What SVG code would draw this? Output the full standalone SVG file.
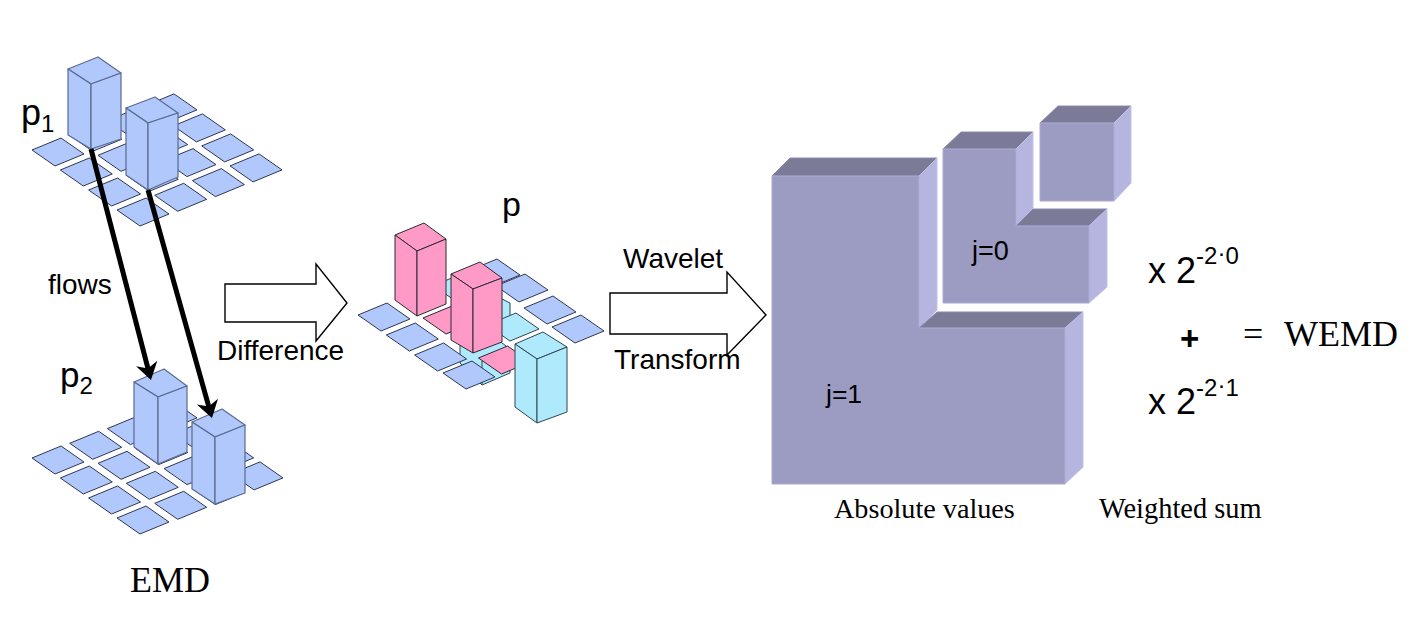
<svg xmlns="http://www.w3.org/2000/svg" xmlns:xlink="http://www.w3.org/1999/xlink" width="1426" height="620" viewBox="0 0 1426 620">
<style>
.s{font-family:"Liberation Sans",Arial,sans-serif;fill:#000}
.t{font-family:"Liberation Serif","Times New Roman",serif;fill:#000}
.blue{fill:#b0c8fc;stroke:#2f3850;stroke-width:1;stroke-linejoin:round}
.pink{fill:#ff99c6;stroke:#2b2b33;stroke-width:1;stroke-linejoin:round}
.cyan{fill:#aeeafc;stroke:#2f4650;stroke-width:1;stroke-linejoin:round}
.bar{stroke:#5a6a90;stroke-width:1.2;fill:#b0c8fc;stroke-linejoin:round}
.front{fill:#9c9cc2;stroke:#a9a9d4;stroke-width:1}
.top{fill:#7b7b98;stroke:#8a8aae;stroke-width:1}
.side{fill:#b5b5e0;stroke:#c0c0e6;stroke-width:1}
.block{fill:#fff;stroke:#000;stroke-width:1.4;stroke-linejoin:miter}
.flow{stroke:#000;stroke-width:5;fill:none}
</style>
<defs>
<path id="tile" d="M0,0L29,-12L52,4L23,16Z"/>
<marker id="head" markerUnits="userSpaceOnUse" markerWidth="36" markerHeight="36" viewBox="-14 -18 36 36" refX="0" refY="0" orient="auto"><path d="M-6,-11L11,0L-6,11L-1,0Z" fill="#000"/></marker>
</defs>

<g id="grid-p1" class="blue">
<use href="#tile" x="32" y="150"/><use href="#tile" x="60.3" y="170"/><use href="#tile" x="88.6" y="190"/><use href="#tile" x="117" y="210"/>
<use href="#tile" x="69.7" y="135.3"/><use href="#tile" x="98" y="155.3"/><use href="#tile" x="126.3" y="175.3"/><use href="#tile" x="154.7" y="195.3"/>
<use href="#tile" x="107.4" y="120.6"/><use href="#tile" x="135.7" y="140.6"/><use href="#tile" x="164" y="160.6"/><use href="#tile" x="192.4" y="180.6"/>
<use href="#tile" x="145" y="105.9"/><use href="#tile" x="173.4" y="125.9"/><use href="#tile" x="201.7" y="145.9"/><use href="#tile" x="230" y="165.9"/>
</g>
<g id="bar-p1-a">
<path class="bar" d="M68,69L98,57L121,73L91,84Z"/><path class="bar" d="M68,69L91,84L91,149L68,135Z"/><path class="bar" d="M91,84L121,73L121,139L91,149Z"/>
</g>
<g id="bar-p1-b">
<path class="bar" d="M126,108L155,97L178,113L148,123Z"/><path class="bar" d="M126,108L148,123L148,190L126,175Z"/><path class="bar" d="M148,123L178,113L178,177L148,190Z"/>
</g>

<g id="grid-p2" class="blue">
<use href="#tile" x="32" y="458"/><use href="#tile" x="60.3" y="478"/><use href="#tile" x="88.6" y="498"/><use href="#tile" x="117" y="518"/>
<use href="#tile" x="69.7" y="443.3"/><use href="#tile" x="98" y="463.3"/><use href="#tile" x="126.3" y="483.3"/><use href="#tile" x="154.7" y="503.3"/>
<use href="#tile" x="107.4" y="428.6"/><use href="#tile" x="135.7" y="448.6"/><use href="#tile" x="164" y="468.6"/><use href="#tile" x="192.4" y="488.6"/>
<use href="#tile" x="145" y="413.9"/><use href="#tile" x="173.4" y="433.9"/><use href="#tile" x="201.7" y="453.9"/><use href="#tile" x="231" y="473.9"/>
</g>
<g id="bar-p2-a">
<path class="bar" d="M134,382L164,369L187,386L158,397Z"/><path class="bar" d="M134,382L158,397L158,464L134,447Z"/><path class="bar" d="M158,397L187,386L187,452L158,464Z"/>
</g>
<g id="bar-p2-b">
<path class="bar" d="M192,422L222,409L245,425L215,437Z"/><path class="bar" d="M192,422L215,437L215,504L192,489Z"/><path class="bar" d="M215,437L245,425L245,493L215,504Z"/>
</g>

<g id="grid-diff">
<g class="cyan">
<use href="#tile" x="433.4" y="285.6"/>
<path d="M461,304L490,293L510,303L510,318L484,330L461,314Z"/>
<use href="#tile" x="487" y="325"/>
<path d="M460,345L489,333L510,349L510,373L482,385L460,363Z"/>
<path d="M482,361L510,349" fill="none"/><path d="M482,361L482,385" fill="none"/>
</g>
<g class="blue">
<use href="#tile" x="358" y="315"/><use href="#tile" x="386.3" y="335"/><use href="#tile" x="414.6" y="355"/><use href="#tile" x="443" y="373"/>
<use href="#tile" x="468" y="271"/><use href="#tile" x="496" y="286"/><use href="#tile" x="524" y="308"/><use href="#tile" x="552" y="327"/>
</g>
<g class="pink">
<use href="#tile" x="423" y="318"/>
<use href="#tile" x="478.5" y="358"/>
</g>
</g>
<g id="bar-diff-pink-a" class="pink">
<path d="M395,235L424,223L446,239L417,251Z"/><path d="M395,235L417,251L417,316L395,300Z"/><path d="M417,251L446,239L446,304L417,316Z"/>
</g>
<g id="bar-diff-pink-b" class="pink">
<path d="M451,274L480,262L502,278L473,289Z"/><path d="M451,274L473,289L473,353L451,340Z"/><path d="M473,289L502,278L502,342L473,353Z"/>
</g>
<g id="bar-diff-cyan" class="cyan">
<path d="M515,344L543,332L567,347L537,359Z"/><path d="M515,344L537,359L537,423L515,407Z"/><path d="M537,359L567,347L567,412L537,423Z"/>
</g>

<g id="arrow-difference"><path class="block" d="M225,284H316V264L347,303L316,341V322H225Z"/></g>
<g id="arrow-wavelet"><path class="block" d="M610,293H727V272L766,315L727,355V334H610Z"/></g>

<g id="block-j1">
<path class="top" d="M772,176L790,158H937L919,176Z"/>
<path class="side" d="M919,176L937,158V310L919,328Z"/>
<path class="top" d="M919,328L937,312H1083L1065,328Z"/>
<path class="side" d="M1065,328L1083,312V467L1065,484Z"/>
<path class="front" d="M772,176H919V328H1065V484H772Z"/>
</g>
<g id="block-j0">
<path class="top" d="M943,149L961,132H1033L1016,149Z"/>
<path class="side" d="M1016,149L1033,132V208L1016,226Z"/>
<path class="top" d="M1016,226L1033,209H1107L1089,226Z"/>
<path class="side" d="M1089,226L1107,209V287L1089,303Z"/>
<path class="front" d="M943,149H1016V226H1089V303H943Z"/>
</g>
<g id="block-small">
<path class="top" d="M1040,123L1058,106H1131L1114,123Z"/>
<path class="side" d="M1114,123L1131,106V183L1114,201Z"/>
<path class="front" d="M1040,123H1114V201H1040Z"/>
</g>

<g id="connectors">
<path class="flow" marker-end="url(#head)" d="M91,149L148.2,369.4"/>
<path class="flow" marker-end="url(#head)" d="M148,190L209,407.4"/>
</g>

<g id="labels">
<text class="s" x="21" y="125" font-size="36">p<tspan font-size="24" dy="7">1</tspan></text>
<text class="s" x="60" y="387" font-size="35">p<tspan font-size="24" dy="7">2</tspan></text>
<text class="s" x="502" y="216" font-size="34">p</text>
<text class="s" x="48" y="294" font-size="28">flows</text>
<text class="s" x="217" y="360" font-size="28">Difference</text>
<text class="s" x="623" y="268" font-size="28">Wavelet</text>
<text class="s" x="614" y="369" font-size="28">Transform</text>
<text class="t" x="130" y="592" font-size="36">EMD</text>
<text class="s" x="972" y="260" font-size="27">j=0</text>
<text class="s" x="826" y="403" font-size="26.5">j=1</text>
<text class="t" x="834" y="518" font-size="28.2">Absolute values</text>
<text class="t" x="1099" y="518" font-size="28.4">Weighted sum</text>
<text class="s" x="1148" y="283" font-size="36">x 2<tspan font-size="24" dy="-19">-2</tspan><tspan font-size="24" dy="-3">·</tspan><tspan font-size="24" dy="3">0</tspan></text>
<text class="s" x="1148" y="414" font-size="36">x 2<tspan font-size="24" dy="-18">-2</tspan><tspan font-size="24" dy="-3">·</tspan><tspan font-size="24" dy="3">1</tspan></text>
<text class="s" x="1180" y="350" font-size="33" font-weight="bold">+</text>
<text class="t" x="1243" y="346" font-size="36">=</text>
<text class="t" x="1284" y="346" font-size="36">WEMD</text>
</g>
</svg>
